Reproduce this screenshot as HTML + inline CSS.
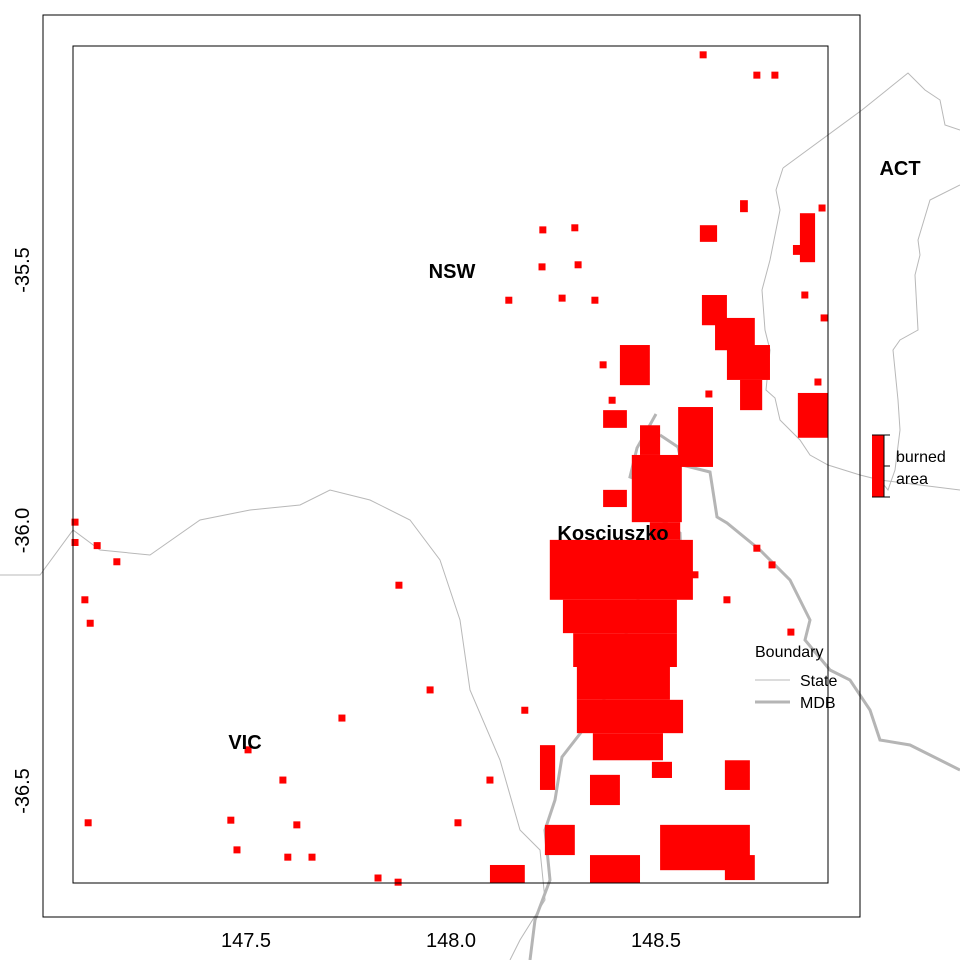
<!DOCTYPE html>
<html><head><meta charset="utf-8"><style>
html,body{margin:0;padding:0;background:#fff;}
svg{display:block;font-family:"Liberation Sans",Arial,sans-serif;}
</style></head><body>
<svg id="map" width="960" height="960" viewBox="0 0 960 960">
<rect x="0" y="0" width="960" height="960" fill="#fff"/>
<g id="bounds">
<polyline fill="none" stroke="#b8b8b8" stroke-width="1" points="0,575 40,575 73,530 100,550 150,555 200,520 250,510 300,505 330,490 370,500 410,520 440,560 460,620 470,690 500,760 520,830 540,850 545,900 520,940 510,960"/>
<polyline fill="none" stroke="#b8b8b8" stroke-width="1" points="783,168 862,110 908,73 925,90 940,100 945,125 960,130"/>
<polyline fill="none" stroke="#b8b8b8" stroke-width="1" points="783,168 776,190 780,210 770,260 762,290 765,330 770,350 766,390 775,398 780,420 800,440 810,455 828,465 860,475 880,480 960,490"/>
<polyline fill="none" stroke="#b8b8b8" stroke-width="1" points="960,185 930,200 918,240 920,255 915,275 918,330 900,340 893,350 898,400 900,430 895,470 888,490 880,480"/>
<polyline fill="none" stroke="#b5b5b5" stroke-width="3" points="656,414 637,448 630,477 643,482 642,500 662,520 680,533 682,580 677,585 662,575 638,592 638,608 628,622 625,640 628,667 612,683 600,708 562,757 555,800 545,830 550,880 535,920 530,960"/>
<polyline fill="none" stroke="#b5b5b5" stroke-width="3" points="660,435 678,447 682,465 710,472 717,517 727,523 760,550 790,580 810,620 805,640 830,670 850,680 870,710 880,740 910,745 960,770"/>
</g>
<g id="cells"></g>
<rect x="73" y="46" width="755" height="837" fill="none" stroke="#000"/>
<rect x="43" y="15" width="817" height="902" fill="none" stroke="#000"/>
<g id="axes" font-size="20" fill="#000"></g>
<g font-weight="bold" font-size="20" text-anchor="middle">
<text x="452" y="278">NSW</text>
<text x="900" y="175">ACT</text>
<text x="245" y="749">VIC</text>
<text x="613" y="540">Kosciuszko</text>
</g>
<g>
<rect x="872" y="435" width="12" height="62" fill="#ff0000"/>
<path d="M872,435H890M872,497H890M884,435V497M884,466H890" stroke="#000" fill="none"/>
<text x="896" y="462" font-size="16">burned</text>
<text x="896" y="484" font-size="16">area</text>
</g>
<g font-size="16">
<text x="755" y="657">Boundary</text>
<line x1="755" y1="680" x2="790" y2="680" stroke="#b8b8b8" stroke-width="1"/>
<text x="800" y="686">State</text>
<line x1="755" y1="702" x2="790" y2="702" stroke="#b5b5b5" stroke-width="3"/>
<text x="800" y="708">MDB</text>
</g>
</svg>
<script>
const xTicks=[147.5,148.0,148.5];
const xTickLabels=["147.5","148.0","148.5"];
const yTicks=[-35.5,-36.0,-36.5];
const yTickLabels=["-35.5","-36.0","-36.5"];
// burned patches: lon0, lat0 (top), lon1, lat1 (bottom)
const patchLon0=[148.241,148.273,148.298,148.307,148.307,148.346,148.441,148.461,148.554,148.371,148.371,148.485,148.612,148.644,148.673,148.705,148.851,148.834,148.846,148.412,148.510,148.668,148.668,148.339,148.229,148.095,148.339,148.217,148.607,148.705,148.490];
const patchLat0=[-36.018,-36.133,-36.197,-36.262,-36.325,-36.389,-35.855,-35.798,-35.763,-35.922,-35.769,-35.984,-35.548,-35.592,-35.644,-35.711,-35.391,-35.452,-35.736,-35.644,-36.565,-36.623,-36.441,-36.469,-36.565,-36.642,-36.623,-36.412,-35.414,-35.366,-36.444];
const patchLon1=[148.590,148.551,148.551,148.534,148.566,148.517,148.563,148.510,148.639,148.429,148.429,148.559,148.673,148.741,148.778,148.759,148.888,148.871,148.920,148.485,148.729,148.741,148.729,148.412,148.302,148.180,148.461,148.254,148.649,148.724,148.539];
const patchLat1=[-36.133,-36.197,-36.262,-36.325,-36.389,-36.441,-35.984,-35.855,-35.878,-35.955,-35.803,-36.018,-35.606,-35.654,-35.711,-35.769,-35.485,-35.471,-35.822,-35.721,-36.652,-36.671,-36.498,-36.527,-36.623,-36.677,-36.677,-36.498,-35.446,-35.389,-36.475];
const dotLon=[148.615,148.746,148.790,148.141,147.873,147.734,147.505,147.463,147.115,147.083,147.949,148.017,147.590,147.624,147.478,147.822,147.871,148.351,148.224,148.302,148.222,148.310,148.271,148.905,148.910,148.863,148.895,148.746,148.783,148.829,148.673,148.595,148.629,148.371,148.393,147.185,147.107,147.120,148.180,147.602,147.661,148.095,147.083,147.137];
const dotLat=[-35.087,-35.126,-35.126,-35.558,-36.105,-36.360,-36.421,-36.556,-36.561,-35.984,-36.306,-36.561,-36.479,-36.565,-36.613,-36.667,-36.675,-35.558,-35.423,-35.419,-35.494,-35.490,-35.554,-35.381,-35.592,-35.548,-35.715,-36.034,-36.066,-36.195,-36.133,-36.085,-35.738,-35.682,-35.750,-36.060,-36.133,-36.178,-36.345,-36.627,-36.627,-36.479,-36.023,-36.029];
const xScale=v=>246+(v-147.5)*410;
const yScale=v=>270-(v+35.5)*521;
const NS="http://www.w3.org/2000/svg";
const cells=document.getElementById('cells');
for(let i=0;i<patchLon0.length;i++){
  const r=document.createElementNS(NS,'rect');
  const x0=xScale(patchLon0[i]),x1=xScale(patchLon1[i]),y0=yScale(patchLat0[i]),y1=yScale(patchLat1[i]);
  r.setAttribute('x',x0);r.setAttribute('y',y0);
  r.setAttribute('width',x1-x0);r.setAttribute('height',y1-y0);
  r.setAttribute('fill','#ff0000');
  
  
  cells.appendChild(r);
}
for(let i=0;i<dotLon.length;i++){
  const r=document.createElementNS(NS,'rect');
  r.setAttribute('x',xScale(dotLon[i])-3.5);r.setAttribute('y',yScale(dotLat[i])-3.5);
  r.setAttribute('width',7);r.setAttribute('height',7);
  r.setAttribute('fill','#ff0000');
  
  
  cells.appendChild(r);
}
const axes=document.getElementById('axes');
xTicks.forEach((t,i)=>{
  const tx=document.createElementNS(NS,'text');
  tx.setAttribute('x',xScale(t));tx.setAttribute('y',947);tx.setAttribute('text-anchor','middle');
  tx.textContent=xTickLabels[i];
  
  
  axes.appendChild(tx);
});
yTicks.forEach((t,i)=>{
  const tx=document.createElementNS(NS,'text');
  const y=yScale(t);
  tx.setAttribute('x',0);tx.setAttribute('y',0);tx.setAttribute('text-anchor','middle');
  tx.setAttribute('transform','translate(29,'+y+') rotate(-90)');
  tx.textContent=yTickLabels[i];
  
  
  axes.appendChild(tx);
});
</script>
</body></html>
